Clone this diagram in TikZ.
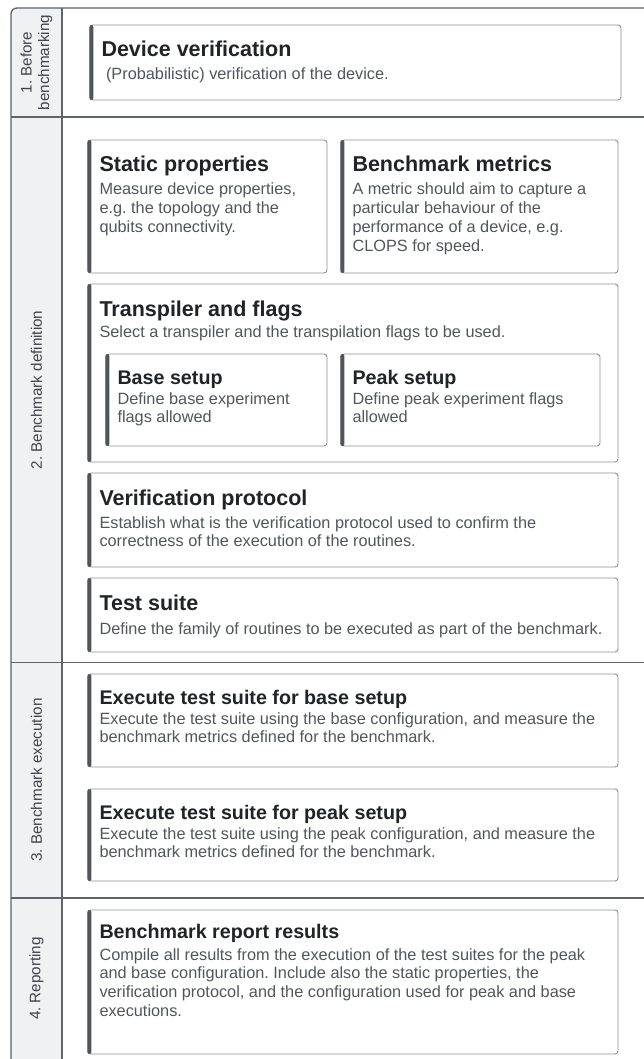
\documentclass[tikz,border=0pt]{standalone}
\usepackage{fontspec}
\setmainfont{Liberation Sans}
\frenchspacing
\definecolor{frameline}{HTML}{5F646B}
\definecolor{labelfill}{HTML}{F0F1F3}
\definecolor{boxline}{HTML}{8A8F96}
\definecolor{barcol}{HTML}{50555D}
\definecolor{titlecol}{HTML}{202328}
\definecolor{bodycol}{HTML}{51565E}
\definecolor{labelcol}{HTML}{3F444B}
\tikzset{
  card/.style={draw=boxline, line width=0.9pt, fill=white, rounded corners=3pt, inner sep=0pt, outer sep=0pt, anchor=north west},
  bigtitle/.style={anchor=base west, inner sep=0pt, font=\fontsize{21.5}{24}\selectfont\bfseries, text=titlecol},
  smalltitle/.style={anchor=base west, inner sep=0pt, font=\fontsize{19.7}{22}\selectfont\bfseries, text=titlecol},
  bodytext/.style={anchor=base west, inner sep=0pt, font=\fontsize{16.3}{18.8}\selectfont\frenchspacing, text=bodycol},
  lanelabel/.style={rotate=90, font=\fontsize{15.2}{17.5}\selectfont, text=labelcol, align=center, inner sep=0pt},
  sepline/.style={draw=frameline, line width=1.3pt},
}
\newcommand\mkcard[5]{%
  \node[card, minimum width=#4pt, minimum height=#5pt] (#1) at (#2,#3) {};
  \fill[barcol, rounded corners=2pt] ([xshift=-0.6pt]#1.north west) rectangle ([xshift=3.4pt]#1.south west);
}
\newcommand\cardtitle[4]{% name, style, yoffset, text
  \node[#2] (#1T) at ([xshift=11.3pt,yshift=-#3pt]#1.north west) {#4};
}
\newcommand\cardbody[3]{% name, yoffset, text
  \node[bodytext] (#1B) at ([xshift=11.3pt,yshift=-#2pt]#1.north west) {\parbox[t]{560pt}{\raggedright\frenchspacing #3}};
}
\begin{document}
\begin{tikzpicture}[x=1pt,y=-1pt]
\useasboundingbox (0,0) rectangle (644,1059);
\clip (0,0) rectangle (644,1059);
\fill[white] (0,0) rectangle (644,1059);
% label column
\begin{scope}
  \clip[rounded corners=6pt] (11,8) rectangle (700,1100);
  \fill[labelfill] (11,8) rectangle (62,1100);
\end{scope}
\draw[sepline, rounded corners=6pt] (11,8) rectangle (700,1100);
\draw[sepline] (62,8) -- (62,1100);
\draw[sepline] (11,117) -- (700,117);
\draw[sepline] (11,662.5) -- (700,662.5);
\draw[sepline] (11,898) -- (700,898);
% lane labels
\node[lanelabel] (lane1) at (36.5,62.5) {1. Before\\benchmarking};
\node[lanelabel] (lane2) at (36.5,390) {2. Benchmark definition};
\node[lanelabel] (lane3) at (36.5,780) {3. Benchmark execution};
\node[lanelabel] (lane4) at (36.5,978.5) {4. Reporting};
% row 1
\mkcard{dev}{90}{25}{531}{75}
\cardtitle{dev}{bigtitle}{32}{Device verification}
\cardbody{dev}{55}{\ (Probabilistic) verification of the device.}
% row 2
\mkcard{stat}{88}{140}{239}{133}
\cardtitle{stat}{bigtitle}{32}{Static properties}
\cardbody{stat}{55}{Measure device properties,\\e.g. the topology and the\\qubits connectivity.}
\mkcard{metr}{341}{140}{277}{133}
\cardtitle{metr}{bigtitle}{32}{Benchmark metrics}
\cardbody{metr}{55}{A metric should aim to capture a\\particular behaviour of the\\performance of a device, e.g.\\CLOPS for speed.}
\mkcard{trans}{88}{284}{530}{178}
\cardtitle{trans}{bigtitle}{32}{Transpiler and flags}
\cardbody{trans}{53.5}{Select a transpiler and the transpilation flags to be used.}
\mkcard{base}{106}{354}{221}{92}
\cardtitle{base}{smalltitle}{30}{Base setup}
\cardbody{base}{50}{Define base experiment\\flags allowed}
\mkcard{peak}{341}{354}{259}{92}
\cardtitle{peak}{smalltitle}{30}{Peak setup}
\cardbody{peak}{50}{Define peak experiment flags\\allowed}
\mkcard{verif}{88}{473}{530}{94}
\cardtitle{verif}{bigtitle}{32}{Verification protocol}
\cardbody{verif}{55}{Establish what is the verification protocol used to confirm the\\correctness of the execution of the routines.}
\mkcard{test}{88}{578}{530}{74}
\cardtitle{test}{bigtitle}{32}{Test suite}
\cardbody{test}{56}{Define the family of routines to be executed as part of the benchmark.}
% row 3
\mkcard{exb}{88}{674}{530}{93}
\cardtitle{exb}{smalltitle}{30}{Execute test suite for base setup}
\cardbody{exb}{50}{Execute the test suite using the base configuration, and measure the\\benchmark metrics defined for the benchmark.}
\mkcard{exp}{88}{789}{530}{92}
\cardtitle{exp}{smalltitle}{30}{Execute test suite for peak setup}
\cardbody{exp}{50}{Execute the test suite using the peak configuration, and measure the\\benchmark metrics defined for the benchmark.}
% row 4
\mkcard{rep}{88}{910}{530}{144}
\cardtitle{rep}{smalltitle}{28.5}{Benchmark report results}
\cardbody{rep}{50}{Compile all results from the execution of the test suites for the peak\\and base configuration. Include also the static properties, the\\verification protocol, and the configuration used for peak and base\\executions.}
\end{tikzpicture}
\end{document}
